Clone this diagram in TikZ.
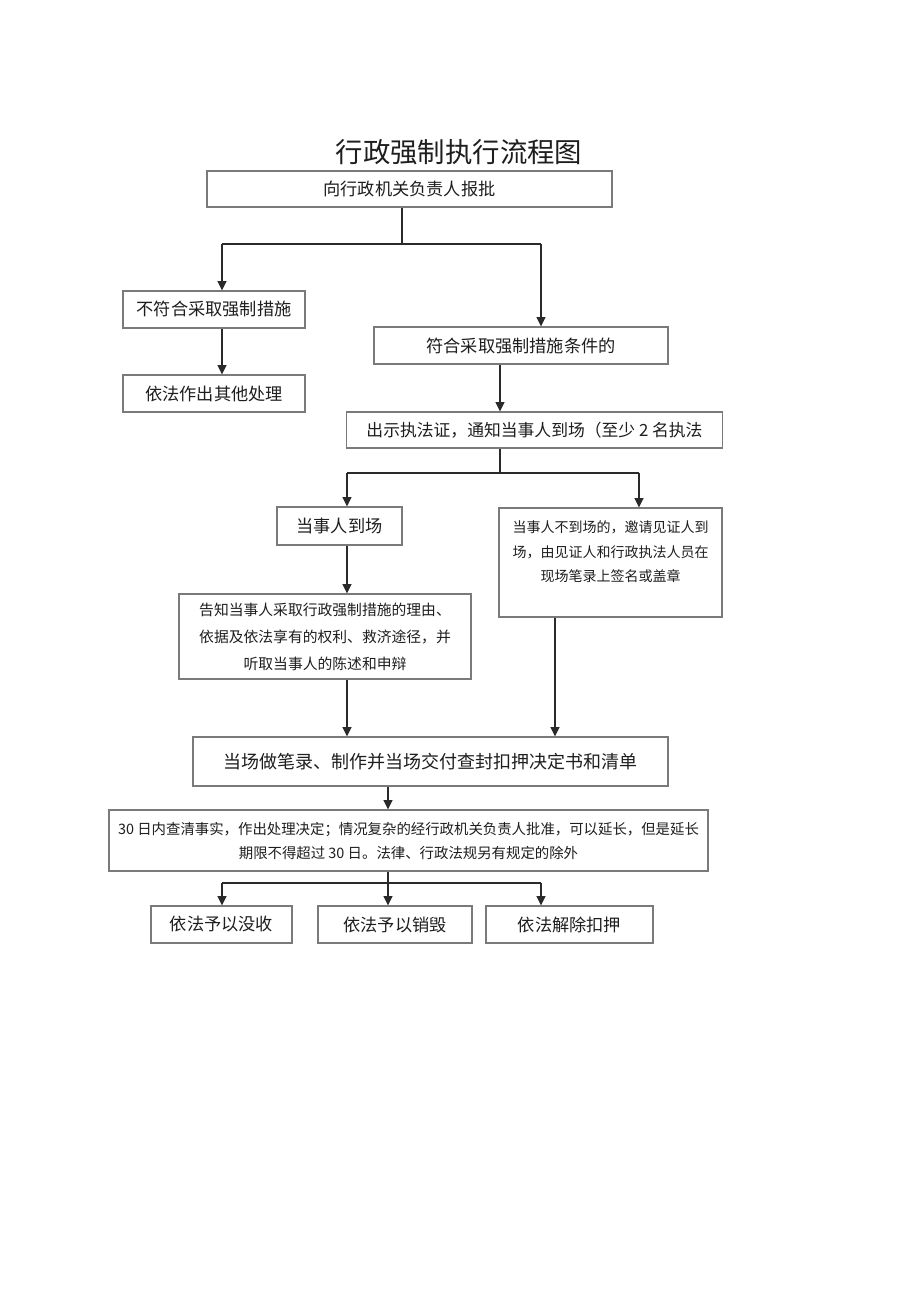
\documentclass[tikz,border=0pt]{standalone}
\usepackage{fontspec}
\setmainfont{Noto Sans CJK SC}
\newfontfamily\cjk{Noto Sans CJK SC}
\usetikzlibrary{arrows.meta}
\definecolor{boxline}{HTML}{7A7A7A}
\definecolor{conn}{HTML}{2A2A2A}
\definecolor{txt}{HTML}{1E1E1E}
\tikzset{
  box/.style={draw=boxline, line width=0.6pt, rectangle, inner sep=0pt, text=txt,
    font=\cjk\fontsize{8.6}{11}\selectfont},
  small/.style={font=\cjk\fontsize{7.3}{13.5}\selectfont, align=center},
  line/.style={draw=conn, line width=0.7pt},
  arr/.style={line, -{Triangle[length=4.6pt,width=4.4pt]}},
}
\begin{document}
\begin{tikzpicture}[x=0.5pt,y=-0.5pt]
\useasboundingbox[fill=white] (0,0) rectangle (920,1301);

\node[text=txt, font=\cjk\fontsize{13.7}{16}\selectfont] (title) at (459,152) {行政强制执行流程图};

\node[box, minimum width=202.5pt, minimum height=18pt, text depth=0.8pt] (b1) at (409.5,189) {向行政机关负责人报批};
\node[box, minimum width=91pt, minimum height=18.5pt] (b2) at (214,309.5) {不符合采取强制措施};
\node[box, minimum width=91pt, minimum height=18.5pt] (b3) at (214,393.5) {依法作出其他处理};
\node[box, minimum width=147pt, minimum height=18.5pt] (b4) at (521,345.5) {符合采取强制措施条件的};
\node[box, minimum width=188pt, minimum height=18pt, font=\cjk\fontsize{8.4}{11}\selectfont] (b5) at (534.5,430) {出示执法证，通知当事人到场（至少 2 名执法\hspace{4pt}};
\node[box, minimum width=62.5pt, minimum height=19pt] (b6) at (339.5,526) {当事人到场\hspace{9pt}};
\node[box, minimum width=111.5pt, minimum height=54.5pt] (b7) at (610.5,562.5)
  {\parbox[c][54.5pt][t]{111.5pt}{\centering\fontsize{7}{12.25}\selectfont
   \rule{0pt}{12.3pt}当事人不到场的，邀请见证人到\\场，由见证人和行政执法人员在\\现场笔录上签名或盖章}};
\node[box, small, minimum width=146pt, minimum height=42.5pt, font=\cjk\fontsize{7.4}{13.5}\selectfont] (b8) at (325,636.5)
  {告知当事人采取行政强制措施的理由、\\依据及依法享有的权利、救济途径，并\\听取当事人的陈述和申辩};
\node[box, minimum width=237.5pt, minimum height=24.5pt, font=\cjk\fontsize{9}{11}\selectfont] (b9) at (430.5,761.5)
  {当场做笔录、制作并当场交付查封扣押决定书和清单};
\node[box, small, minimum width=299.5pt, minimum height=30.5pt, font=\cjk\fontsize{7.2}{12}\selectfont] (b10) at (408.5,840.5)
  {30 日内查清事实，作出处理决定；情况复杂的经行政机关负责人批准，可以延长，但是延长\\期限不得超过 30 日。法律、行政法规另有规定的除外};
\node[box, minimum width=70.5pt, minimum height=18.5pt] (b11) at (221.5,924.5) {依法予以没收};
\node[box, minimum width=77pt, minimum height=18.5pt] (b12) at (395,924.5) {依法予以销毁};
\node[box, minimum width=83.5pt, minimum height=18.5pt] (b13) at (569.5,924.5) {依法解除扣押};

% junctions
\coordinate (j1) at (402,244);
\coordinate (j1L) at (222,244);
\coordinate (j1R) at (541,244);
\coordinate (c4) at (500,0);
\coordinate (j2) at (500,473);
\coordinate (j2L) at (347,473);
\coordinate (j2R) at (639,473);
\coordinate (c7) at (555,0);
\coordinate (j3) at (388,883);
\coordinate (j3L) at (222,883);
\coordinate (j3R) at (541,883);

\draw[line] (b1.south -| j1) -- (j1);
\draw[line] (j1L) -- (j1R);
\draw[arr] (j1L) -- (j1L |- b2.north);
\draw[arr] (j1R) -- (j1R |- b4.north);
\draw[arr] (b2.south -| j1L) -- (b3.north -| j1L);
\draw[arr] (b4.south -| c4) -- (b5.north -| c4);

\draw[line] (b5.south -| j2) -- (j2);
\draw[line] (j2L) -- (j2R);
\draw[arr] (j2L) -- (j2L |- b6.north);
\draw[arr] (j2R) -- (j2R |- b7.north);
\draw[arr] (b6.south -| j2L) -- (b8.north -| j2L);
\draw[arr] (b8.south -| j2L) -- (b9.north -| j2L);
\draw[arr] (b7.south -| c7) -- (b9.north -| c7);

\draw[arr] (b9.south -| j3) -- (b10.north -| j3);
\draw[line] (b10.south -| j3) -- (j3);
\draw[line] (j3L) -- (j3R);
\draw[arr] (j3L) -- (j3L |- b11.north);
\draw[arr] (j3) -- (j3 |- b12.north);
\draw[arr] (j3R) -- (j3R |- b13.north);
\end{tikzpicture}
\end{document}
